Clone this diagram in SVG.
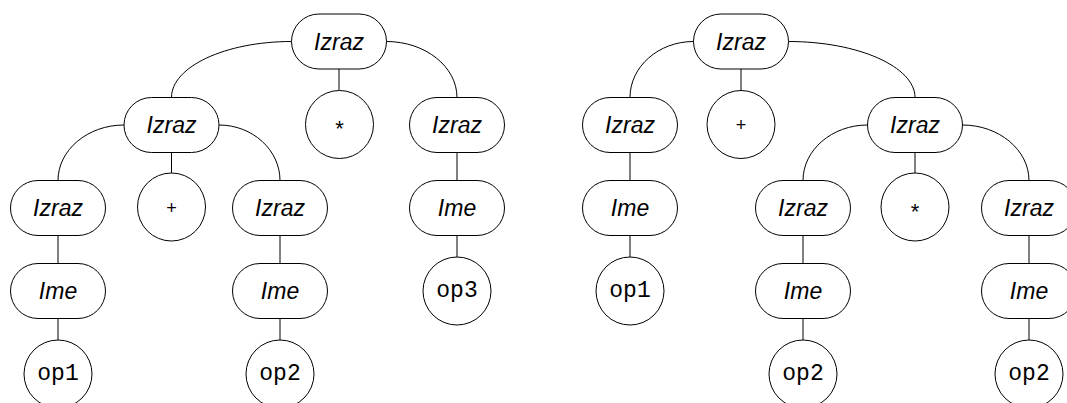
<svg xmlns="http://www.w3.org/2000/svg" width="1067" height="403" viewBox="0 0 1067 403">
<style>
.n{fill:#fff;stroke:#000;stroke-width:1}
.c{fill:none;stroke:#000;stroke-width:1}
.t{font-family:"Liberation Sans",Arial,sans-serif;font-style:italic;font-size:23px;text-anchor:middle;fill:#000}
.m{font-family:"Liberation Mono","Courier New",monospace;font-size:23px;text-anchor:middle;fill:#000}
.s{font-family:"Liberation Sans",Arial,sans-serif;font-size:18px;text-anchor:middle;fill:#000}
.a{font-family:"Liberation Sans",Arial,sans-serif;font-size:22px;text-anchor:middle;fill:#000}
</style>
<rect width="1067" height="403" fill="#fff"/>
<g id="connectors">
<path class="c" d="M291.5,41.5 C225.5,41.5 171.5,66.7 171.5,97.5"/>
<path class="c" d="M386.5,41.5 C425.3,41.5 457,66.7 457,97.5"/>
<path class="c" d="M339,69 V90.5"/>
<path class="c" d="M124,125 C87.7,125 58,150 58,180.5"/>
<path class="c" d="M219,125 C252.5,125 280,150 280,180.5"/>
<path class="c" d="M171.5,152.5 V173"/>
<path class="c" d="M58,235.5 V263.5 M58,318.5 V340"/>
<path class="c" d="M280,235.5 V263.5 M280,318.5 V340"/>
<path class="c" d="M457,152.5 V180.5 M457,235.5 V257"/>
<path class="c" d="M693.5,41.5 C658.5,41.5 630,66.7 630,97.5"/>
<path class="c" d="M788.5,41.5 C858.1,41.5 915,66.7 915,97.5"/>
<path class="c" d="M741,69 V90.5"/>
<path class="c" d="M867.5,125 C832,125 803,150 803,180.5"/>
<path class="c" d="M962.5,125 C999,125 1029,150 1029,180.5"/>
<path class="c" d="M915,152.5 V173"/>
<path class="c" d="M630,152.5 V180.5 M630,235.5 V257"/>
<path class="c" d="M803,235.5 V263.5 M803,318.5 V340"/>
<path class="c" d="M1029,235.5 V263.5 M1029,318.5 V340"/>
</g>
<g id="L_root"><rect class="n" x="291.5" y="14" width="95" height="55" rx="27.5"/><text class="t" x="339" y="49.5">Izraz</text></g>
<g id="L_a"><rect class="n" x="124" y="97.5" width="95" height="55" rx="27.5"/><text class="t" x="171.5" y="133">Izraz</text></g>
<g id="L_star"><circle class="n" cx="339.5" cy="124.5" r="34"/><text class="a" x="339.5" y="136">*</text></g>
<g id="L_b"><rect class="n" x="409.5" y="97.5" width="95" height="55" rx="27.5"/><text class="t" x="457" y="133">Izraz</text></g>
<g id="L_a1"><rect class="n" x="10.5" y="180.5" width="95" height="55" rx="27.5"/><text class="t" x="58" y="216">Izraz</text></g>
<g id="L_plus"><circle class="n" cx="171.5" cy="207" r="34"/><text class="s" x="171.5" y="213.5">+</text></g>
<g id="L_a3"><rect class="n" x="232.5" y="180.5" width="95" height="55" rx="27.5"/><text class="t" x="280" y="216">Izraz</text></g>
<g id="L_a1_ime"><rect class="n" x="10.5" y="263.5" width="95" height="55" rx="27.5"/><text class="t" x="58" y="299">Ime</text></g>
<g id="L_a3_ime"><rect class="n" x="232.5" y="263.5" width="95" height="55" rx="27.5"/><text class="t" x="280" y="299">Ime</text></g>
<g id="L_op1"><circle class="n" cx="58" cy="374" r="34"/><text class="m" x="58" y="380">op1</text></g>
<g id="L_op2"><circle class="n" cx="280" cy="374" r="34"/><text class="m" x="280" y="380">op2</text></g>
<g id="L_b_ime"><rect class="n" x="409.5" y="180.5" width="95" height="55" rx="27.5"/><text class="t" x="457" y="216">Ime</text></g>
<g id="L_op3"><circle class="n" cx="457" cy="291" r="34"/><text class="m" x="457" y="297">op3</text></g>
<g id="R_root"><rect class="n" x="693.5" y="14" width="95" height="55" rx="27.5"/><text class="t" x="741" y="49.5">Izraz</text></g>
<g id="R_a"><rect class="n" x="582.5" y="97.5" width="95" height="55" rx="27.5"/><text class="t" x="630" y="133">Izraz</text></g>
<g id="R_plus"><circle class="n" cx="741" cy="124.5" r="34"/><text class="s" x="741" y="131">+</text></g>
<g id="R_b"><rect class="n" x="867.5" y="97.5" width="95" height="55" rx="27.5"/><text class="t" x="915" y="133">Izraz</text></g>
<g id="R_a_ime"><rect class="n" x="582.5" y="180.5" width="95" height="55" rx="27.5"/><text class="t" x="630" y="216">Ime</text></g>
<g id="R_op1"><circle class="n" cx="630" cy="291" r="34"/><text class="m" x="630" y="297">op1</text></g>
<g id="R_b1"><rect class="n" x="755.5" y="180.5" width="95" height="55" rx="27.5"/><text class="t" x="803" y="216">Izraz</text></g>
<g id="R_star"><circle class="n" cx="915" cy="207" r="34"/><text class="a" x="915" y="218.5">*</text></g>
<g id="R_b3"><rect class="n" x="981.5" y="180.5" width="95" height="55" rx="27.5"/><text class="t" x="1029" y="216">Izraz</text></g>
<g id="R_b1_ime"><rect class="n" x="755.5" y="263.5" width="95" height="55" rx="27.5"/><text class="t" x="803" y="299">Ime</text></g>
<g id="R_b3_ime"><rect class="n" x="981.5" y="263.5" width="95" height="55" rx="27.5"/><text class="t" x="1029" y="299">Ime</text></g>
<g id="R_op2a"><circle class="n" cx="803" cy="374" r="34"/><text class="m" x="803" y="380">op2</text></g>
<g id="R_op2b"><circle class="n" cx="1029" cy="374" r="34"/><text class="m" x="1029" y="380">op2</text></g>
</svg>
